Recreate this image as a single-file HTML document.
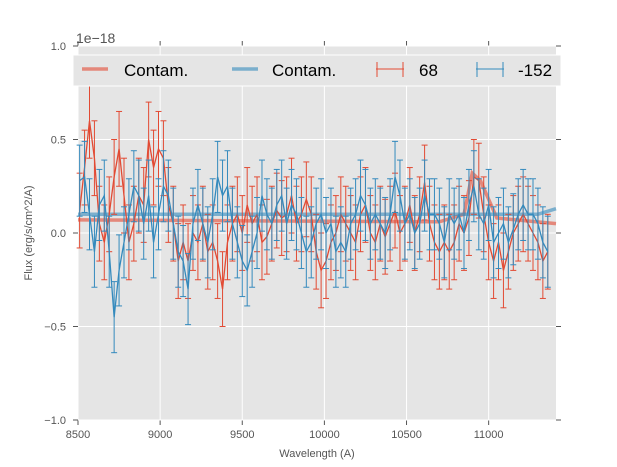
<!DOCTYPE html>
<html><head><meta charset="utf-8"><style>
body{margin:0;background:#fff;}
svg{display:block;font-family:"Liberation Sans",sans-serif;}
</style></head><body>
<svg id="chart" width="617" height="467"></svg>
<script>
const wavelengths=[];for(let i=0;i<96;i++)wavelengths.push(8510+30*i);
const redFlux=[0.12,0.35,0.60,0.40,0.05,-0.05,0.10,0.30,0.45,0.20,
-0.05,0.05,0.20,0.15,0.50,0.35,0.45,0.40,0.15,0.05,
-0.15,-0.05,-0.15,0.00,-0.05,0.05,-0.10,-0.05,-0.15,-0.30,
-0.05,0.05,0.10,0.00,0.15,0.05,0.10,-0.05,-0.02,0.05,
0.12,0.08,0.10,0.20,0.05,0.10,0.18,0.10,-0.10,-0.20,
-0.15,-0.05,0.00,0.10,0.05,0.00,-0.05,0.10,0.15,0.00,
-0.05,0.05,-0.02,0.05,0.12,0.00,0.05,0.15,0.00,0.10,
0.27,0.05,-0.05,-0.10,-0.05,-0.10,-0.05,0.05,0.00,0.08,
0.30,0.28,0.10,-0.05,-0.15,-0.05,-0.20,-0.10,0.00,0.05,
0.10,0.05,0.00,-0.05,-0.15,-0.10];
const blueFlux=[0.28,0.30,0.10,-0.10,0.15,0.20,-0.10,-0.45,-0.20,-0.05,
0.10,0.25,0.20,0.05,0.20,-0.05,0.10,0.25,0.20,0.05,
-0.10,-0.15,-0.30,0.05,0.15,0.05,-0.05,0.10,0.30,0.20,
0.25,0.05,-0.05,-0.15,-0.20,-0.10,0.00,0.20,0.10,0.05,
0.15,0.20,0.05,0.15,0.10,0.00,-0.10,-0.05,0.05,0.10,
0.00,0.05,-0.10,-0.05,-0.10,0.05,0.10,0.20,0.15,0.05,
0.10,0.05,0.00,0.10,0.30,0.20,0.05,0.10,0.00,0.05,
0.20,0.10,0.10,0.05,-0.05,0.10,0.05,0.10,0.00,0.15,
0.25,0.10,0.05,0.15,-0.05,0.00,0.05,-0.05,0.02,0.10,
0.15,0.10,0.10,0.05,-0.05,-0.10];
const redErr=0.2, blueErr=0.19;
const contamRedWave=[8500,10700,10850,10900,10950,11050,11410];
const contamRedFlux=[0.07,0.06,0.10,0.32,0.28,0.08,0.05];
const contamBlueWave=[8500,11200,11300,11410];
const contamBlueFlux=[0.10,0.10,0.10,0.13];
const xTicks=[8500,9000,9500,10000,10500,11000];
const yTicks=[1.0,0.5,0.0,-0.5,-1.0];
const yTickLabels=["1.0","0.5","0.0","\u22120.5","\u22121.0"];

const L=78,R=556,T=46,B=420,XMIN=8500,XMAX=11410,YMIN=-1,YMAX=1;
const xs=v=>L+(v-XMIN)/(XMAX-XMIN)*(R-L);
const ys=v=>B-(v-YMIN)/(YMAX-YMIN)*(B-T);
const svg=document.getElementById('chart');const NS='http://www.w3.org/2000/svg';
function mk(tag,at,parent){const e=document.createElementNS(NS,tag);for(const k in at)e.setAttribute(k,at[k]);(parent||svg).appendChild(e);return e;}

let e=mk('rect',{x:L,y:T,width:R-L,height:B-T,fill:'#E5E5E5'});


xTicks.forEach(v=>{const x=xs(v);
 e=mk('line',{x1:x,x2:x,y1:T,y2:B,stroke:'#fff','stroke-width':1});
 
 
 mk('line',{x1:x,x2:x,y1:B,y2:B+5,stroke:'#555'});mk('line',{x1:x,x2:x,y1:T,y2:T-5,stroke:'#555'});
 e=mk('text',{x:x,y:B+18,'text-anchor':'middle','font-size':11,fill:'#555'});e.textContent=v;
 
 
});
yTicks.forEach((v,i)=>{const y=ys(v);
 e=mk('line',{x1:L,x2:R,y1:y,y2:y,stroke:'#fff','stroke-width':1});
 
 
 mk('line',{x1:L-5,x2:L,y1:y,y2:y,stroke:'#555'});mk('line',{x1:R,x2:R+5,y1:y,y2:y,stroke:'#555'});
 e=mk('text',{x:L-12,y:y+4,'text-anchor':'end','font-size':11,fill:'#555'});e.textContent=yTickLabels[i];
 
 
});
function contam(wv,fl,color,name){
 e=mk('polyline',{points:wv.map((w,i)=>xs(w)+','+ys(fl[i])).join(' '),fill:'none',stroke:color,'stroke-width':3.5,'stroke-opacity':0.6});
 
 
}
function series(vals,err,color,name){
 const g=mk('g',{});
 
 
 vals.forEach((v,i)=>{const x=xs(wavelengths[i]);
  mk('line',{x1:x,x2:x,y1:ys(v-err),y2:ys(v+err),stroke:color,'stroke-width':1},g);
  mk('line',{x1:x-3,x2:x+3,y1:ys(v-err),y2:ys(v-err),stroke:color},g);
  mk('line',{x1:x-3,x2:x+3,y1:ys(v+err),y2:ys(v+err),stroke:color},g);
 });
 mk('polyline',{points:vals.map((v,i)=>xs(wavelengths[i])+','+ys(v)).join(' '),fill:'none',stroke:color,'stroke-width':1.3},g);
}
contam(contamRedWave,contamRedFlux,'#E24A33','contam-red-line');
contam(contamBlueWave,contamBlueFlux,'#348ABD','contam-blue-line');
series(redFlux,redErr,'#E24A33','series-68');
series(blueFlux,blueErr,'#348ABD','series-152');
</script>
<svg width="617" height="467" style="position:absolute;left:0;top:0">
<rect x="73" y="55" width="488" height="31" fill="#E5E5E5" stroke="#fff"/>
<g><line x1="82" x2="108" y1="69" y2="69" stroke="#E24A33" stroke-width="3.5" stroke-opacity="0.6"/><text x="124" y="76" font-size="17" font-family="Liberation Sans,sans-serif">Contam.</text></g>
<g><line x1="232" x2="258" y1="69" y2="69" stroke="#348ABD" stroke-width="3.5" stroke-opacity="0.6"/><text x="272" y="76" font-size="17" font-family="Liberation Sans,sans-serif">Contam.</text></g>
<g stroke="#E24A33"><line x1="376" x2="404" y1="69" y2="69"/><line x1="377" x2="377" y1="62" y2="77"/><line x1="403" x2="403" y1="62" y2="77"/><text x="419" y="76" font-size="17" stroke="none" fill="#000" font-family="Liberation Sans,sans-serif">68</text></g>
<g stroke="#348ABD"><line x1="476" x2="504" y1="69" y2="69"/><line x1="477" x2="477" y1="62" y2="77"/><line x1="503" x2="503" y1="62" y2="77"/><text x="518" y="76" font-size="17" stroke="none" fill="#000" font-family="Liberation Sans,sans-serif">-152</text></g>
<text x="76" y="43" font-size="14" fill="#555" font-family="Liberation Sans,sans-serif">1e−18</text>
<text x="317" y="457" font-size="11" text-anchor="middle" fill="#555" font-family="Liberation Sans,sans-serif">Wavelength (A)</text>
<text transform="translate(32,233) rotate(-90)" font-size="11" text-anchor="middle" fill="#555" font-family="Liberation Sans,sans-serif">Flux (erg/s/cm^2/A)</text>
</svg>
</body></html>
